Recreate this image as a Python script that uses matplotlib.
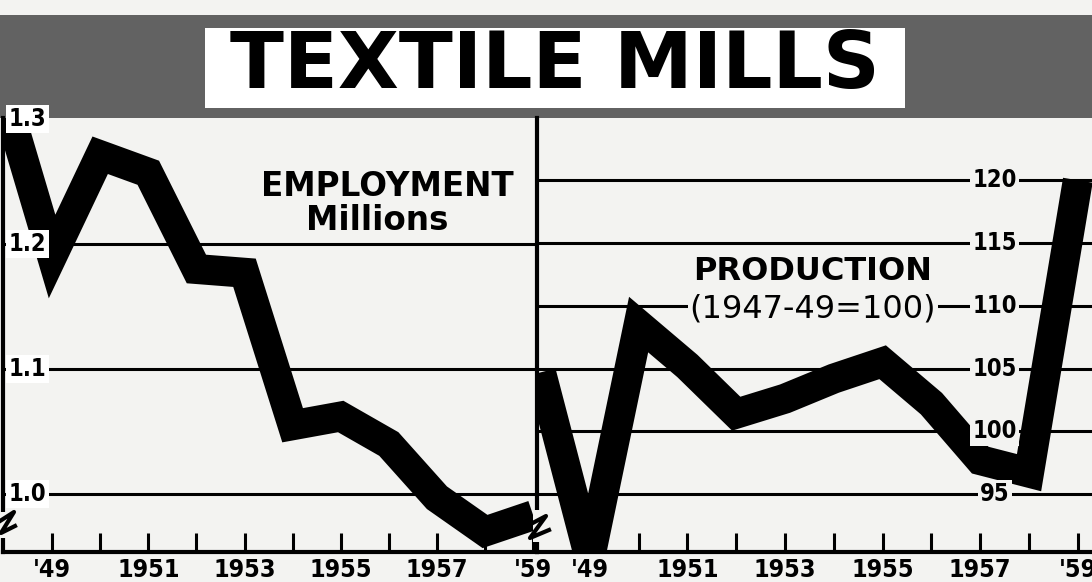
import matplotlib
matplotlib.use("Agg")
import matplotlib.pyplot as plt
import matplotlib.transforms as mtrans
from matplotlib.patches import Rectangle
from matplotlib.lines import Line2D

years = [1948, 1949, 1950, 1951, 1952, 1953, 1954, 1955, 1956, 1957, 1958, 1959]
employment = [1.32, 1.19, 1.271, 1.257, 1.18, 1.177, 1.055, 1.062, 1.04, 0.997, 0.970, 0.983]
production = [104.7, 89.8, 108.5, 105.2, 101.4, 102.6, 104.2, 105.5, 102.2, 97.7, 96.7, 120.0]

tick_years = list(range(1949, 1960))
tick_text = ["'49", "", "1951", "", "1953", "", "1955", "", "1957", "", "'59"]

emp_grid = [1.0, 1.1, 1.2]
emp_labels = [1.0, 1.1, 1.2, 1.3]
emp_fmt = ["1.0", "1.1", "1.2", "1.3"]
prod_grid = [95, 100, 105, 110, 115, 120]

paper = "#f3f3f1"
band = "#626262"

W, H = 1092, 582
def fx(px):
    return px / W
def fy(py):
    return 1 - py / H

fig = plt.figure(figsize=(W / 100, H / 100), dpi=100)
fig.patch.set_facecolor(paper)

# grey title band with white box
fig.add_artist(Rectangle((0, fy(118)), 1, fy(15) - fy(118), transform=fig.transFigure,
                         facecolor=band, edgecolor="none", zorder=-1))
fig.add_artist(Rectangle((fx(205), fy(108)), fx(905) - fx(205), fy(28) - fy(108),
                         transform=fig.transFigure, facecolor="white", edgecolor="none", zorder=1))
fig.text(fx(555), fy(66), "TEXTILE MILLS", ha="center", va="center", fontsize=57,
         family="DejaVu Sans", fontweight="bold", color="black", zorder=2)

top, bot = 118, 552
ax1 = fig.add_axes([fx(3), fy(bot), fx(537) - fx(3), fy(top) - fy(bot)])
ax2 = fig.add_axes([fx(537), fy(bot), fx(1092) - fx(537), fy(top) - fy(bot)])

ax1.plot(years, employment, color="black", lw=21.6, solid_joinstyle="miter",
         solid_capstyle="butt", zorder=3)
ax2.plot(years, production, color="black", lw=21.6, solid_joinstyle="miter",
         solid_capstyle="butt", zorder=3)

ax1.set_xlim(1947.98, 1959.08)
ax1.set_ylim(0.9536, 1.3008)
ax2.set_xlim(1947.918, 1959.29)
ax2.set_ylim(90.38, 124.96)

ax1.set_yticks(emp_grid)
ax2.set_yticks(prod_grid)

for ax in (ax1, ax2):
    ax.set_facecolor(paper)
    ax.set_axisbelow(True)
    ax.grid(axis="y", color="black", lw=2.2)
    ax.grid(axis="x", visible=False)
    ax.tick_params(axis="y", length=0, labelleft=False)
    ax.set_xticks(tick_years)
    ax.set_xticklabels(tick_text)
    ax.tick_params(axis="x", direction="in", length=14, width=2.2, pad=4,
                   labelsize=18, colors="black")
    for lab in ax.get_xticklabels():
        lab.set_family("DejaVu Sans")
        lab.set_fontstretch("condensed")
        lab.set_fontweight("bold")
    ax.spines["top"].set_visible(False)
    ax.spines["right"].set_visible(False)
    ax.spines["bottom"].set_linewidth(3)
    ax.spines["left"].set_linewidth(3)

# value labels sitting on the grid lines
tr1 = mtrans.blended_transform_factory(ax1.transAxes, ax1.transData)
for v, s in zip(emp_labels, emp_fmt):
    ax1.text(0.046, v, s, transform=tr1, ha="center", va="center", fontsize=17,
             family="DejaVu Sans", fontstretch="condensed", fontweight="bold",
             zorder=6, clip_on=False,
             bbox=dict(boxstyle="square,pad=0.1", fc="white", ec="none"))
tr2 = mtrans.blended_transform_factory(ax2.transAxes, ax2.transData)
for v in prod_grid:
    ax2.text(0.825, v, str(v), transform=tr2, ha="center", va="center", fontsize=17,
             family="DejaVu Sans", fontstretch="condensed", fontweight="bold", zorder=6,
             bbox=dict(boxstyle="square,pad=0.1", fc=paper, ec="none"))

# panel captions
ax1.text(fx(387), fy(186), "EMPLOYMENT", transform=fig.transFigure, ha="center", va="center",
         fontsize=23.5, fontweight="bold", family="DejaVu Sans", zorder=6)
ax1.text(fx(377), fy(221), "Millions", transform=fig.transFigure, ha="center", va="center",
         fontsize=23.5, fontweight="bold", family="DejaVu Sans", zorder=6)
ax2.text(fx(813), fy(271), "PRODUCTION", transform=fig.transFigure, ha="center", va="center",
         fontsize=23, fontweight="bold", family="DejaVu Sans", zorder=6)
ax2.text(fx(813), fy(309), "(1947-49=100)", transform=fig.transFigure, ha="center", va="center",
         fontsize=23, family="DejaVu Sans", zorder=6,
         bbox=dict(boxstyle="square,pad=0.05", fc=paper, ec="none"))

# scale-break marks
def zig(pts, gap):
    gx0, gy0, gx1, gy1 = gap
    fig.add_artist(Rectangle((fx(gx0), fy(gy1)), fx(gx1) - fx(gx0), fy(gy0) - fy(gy1),
                             transform=fig.transFigure, facecolor=paper, edgecolor="none",
                             zorder=7))
    fig.add_artist(Line2D([fx(p[0]) for p in pts], [fy(p[1]) for p in pts],
                          transform=fig.transFigure, color="black", lw=3, zorder=8))

zig([(0, 521), (14, 512), (1, 533), (15, 526)], (0, 512, 9, 538))
zig([(527, 526), (546, 516), (530, 538), (549, 530)], (533, 510, 542, 542))

fig.savefig("out.png", dpi=100, facecolor=fig.get_facecolor())
